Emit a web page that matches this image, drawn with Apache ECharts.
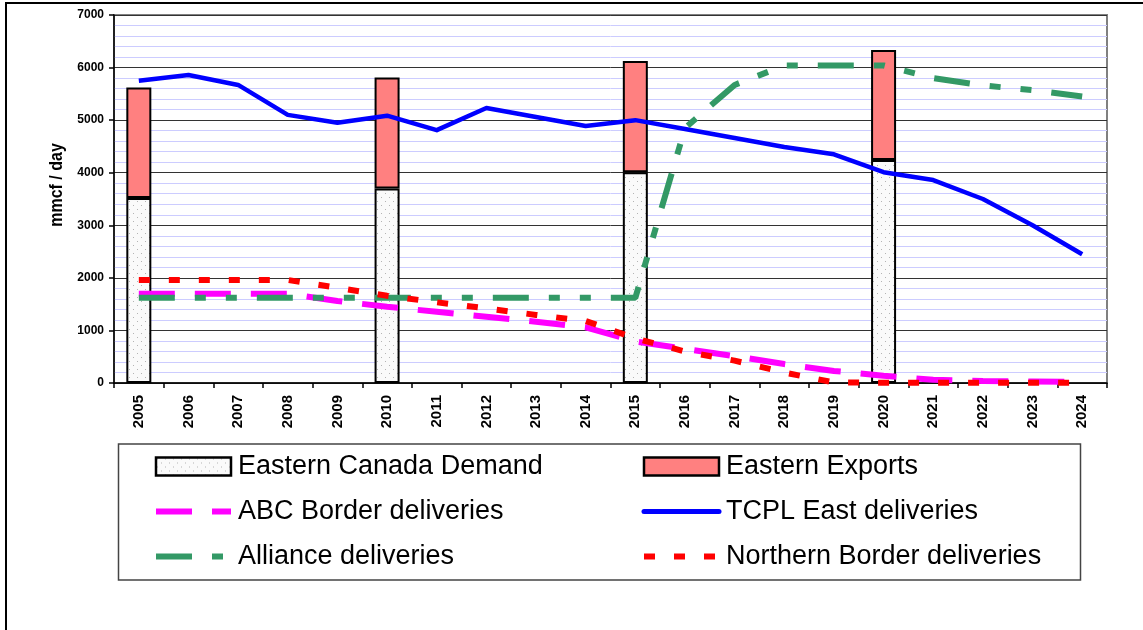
<!DOCTYPE html>
<html lang="en">
<head>
<meta charset="UTF-8">
<title>Eastern Canada gas deliveries</title>
<script src="https://cdn.jsdelivr.net/npm/echarts@6/dist/echarts.min.js"></script>
<style>
    html, body { margin: 0; padding: 0; background: #fff; }
    #chart { width: 1143px; height: 630px; }
</style>
</head>
<body>
<div id="chart"></div>
<script>
    // data (mmcf / day)
    const years = ['2005','2006','2007','2008','2009','2010','2011','2012','2013','2014',
                   '2015','2016','2017','2018','2019','2020','2021','2022','2023','2024'];
    const easternDemand  = [3520,null,null,null,null,3700,null,null,null,null,4010,null,null,null,null,4240,null,null,null,null];
    const easternExports = [2100,null,null,null,null,2110,null,null,null,null,2115,null,null,null,null,2095,null,null,null,null];
    const abcBorder      = [1700,1700,1700,1700,1560,1450,1355,1260,1165,1060,790,650,510,360,230,140,60,40,30,20];
    const tcplEast       = [5750,5860,5670,5100,4950,5085,4810,5230,5060,4890,5000,4830,4660,4490,4350,4010,3860,3500,3000,2450];
    const alliance       = [1620,1620,1620,1620,1620,1620,1620,1620,1620,1620,1620,4850,5670,6040,6040,6040,5800,5660,5570,5450];
    const northernBorder = [1960,1960,1960,1960,1810,1660,1535,1420,1295,1180,850,600,425,200,10,5,5,5,5,5];

    // light dotted fill like the Excel pattern
    function dotPattern() {
        const c = document.createElement('canvas');
        c.width = 8; c.height = 8;
        const ctx = c.getContext('2d');
        ctx.fillStyle = '#fafafa';
        ctx.fillRect(0, 0, 8, 8);
        ctx.fillStyle = '#b4b4b4';
        ctx.fillRect(1, 1, 1, 1);
        ctx.fillRect(5, 5, 1, 1);
        return c;
    }

    const FONT = 'Liberation Sans, Arial, sans-serif';
    const chart = echarts.init(document.getElementById('chart'));

    // hide the little circle ECharts puts on line legend icons
    const noDot = { opacity: 0 };

    const legendCommon = {
        orient: 'vertical',
        top: 453,
        itemWidth: 75,
        itemHeight: 18,
        itemGap: 18,
        padding: 0,
        selectedMode: false,
        textStyle: { fontSize: 27, color: '#000', fontFamily: FONT, padding: [0, 0, 0, 2] }
    };

    const option = {
        animation: false,
        textStyle: { fontFamily: FONT },
        grid: {
            left: 114, right: 36, top: 15, bottom: 247,
            show: true, borderColor: '#808080', borderWidth: 2
        },
        legend: [
            Object.assign({}, legendCommon, {
                left: 153,
                data: [
                    { name: 'Eastern Canada Demand', icon: 'rect', itemStyle: { borderColor: '#000', borderWidth: 2.5 } },
                    { name: 'ABC Border deliveries', itemStyle: noDot, lineStyle: { width: 6 } },
                    { name: 'Alliance deliveries', itemStyle: noDot, lineStyle: { width: 6 } }
                ]
            }),
            Object.assign({}, legendCommon, {
                left: 641,
                data: [
                    { name: 'Eastern Exports', icon: 'rect', itemStyle: { borderColor: '#000', borderWidth: 2.5 } },
                    { name: 'TCPL East deliveries', itemStyle: noDot, lineStyle: { width: 5, cap: 'round' } },
                    { name: 'Northern Border deliveries', itemStyle: noDot, lineStyle: { width: 6 } }
                ]
            })
        ],
        xAxis: {
            type: 'category',
            data: years,
            boundaryGap: true,
            axisLine: { lineStyle: { color: '#000', width: 1.5 } },
            axisTick: { show: true, length: 5, interval: 0, lineStyle: { color: '#000', width: 1.5 } },
            axisLabel: { rotate: 90, interval: 0, margin: 12, fontSize: 15, fontWeight: 'bold', color: '#000' }
        },
        yAxis: {
            type: 'value',
            min: 0, max: 7000, interval: 1000,
            axisLine: { show: true, lineStyle: { color: '#000', width: 1.5 } },
            axisTick: { show: true, length: 5, lineStyle: { color: '#000', width: 1.5 } },
            axisLabel: { margin: 10, fontSize: 12, fontWeight: 'bold', color: '#000',
                         formatter: v => String(v) },
            splitLine: { show: true, lineStyle: { color: '#333', width: 1 } },
            minorTick: { show: false, splitNumber: 5 },
            minorSplitLine: { show: true, lineStyle: { color: '#ccccff', width: 1 } }
        },
        graphic: [
            { type: 'rect', silent: true, shape: { x: 6, y: 3, width: 1160, height: 660 },
              style: { fill: 'none', stroke: '#000', lineWidth: 2 } },
            { type: 'rect', silent: true, shape: { x: 118.5, y: 444, width: 962, height: 136 },
              style: { fill: 'none', stroke: '#444', lineWidth: 1.5 } },
            { type: 'text', silent: true, x: 57, y: 185, rotation: Math.PI / 2, scaleY: 1.2,
              style: { text: 'mmcf / day', font: 'bold 16px ' + FONT, fill: '#000',
                       textAlign: 'center', textVerticalAlign: 'middle' } }
        ],
        series: [
            {
                name: 'Eastern Canada Demand',
                type: 'bar', stack: 'total', barWidth: 25,
                data: easternDemand,
                itemStyle: { color: { image: dotPattern(), repeat: 'repeat' }, borderColor: '#000', borderWidth: 2 }
            },
            {
                name: 'Eastern Exports',
                type: 'bar', stack: 'total', barWidth: 25,
                data: easternExports,
                itemStyle: { color: '#ff8080', borderColor: '#000', borderWidth: 2 }
            },
            {
                name: 'ABC Border deliveries',
                type: 'line', symbol: 'none', data: abcBorder,
                lineStyle: { color: '#ff00ff', width: 6, type: [36, 20] },
                itemStyle: { color: '#ff00ff' }
            },
            {
                name: 'TCPL East deliveries',
                type: 'line', symbol: 'none', data: tcplEast,
                lineStyle: { color: '#0000ff', width: 4.5, join: 'round' },
                itemStyle: { color: '#0000ff' }
            },
            {
                name: 'Alliance deliveries',
                type: 'line', symbol: 'none', data: alliance,
                lineStyle: { color: '#339966', width: 6, type: [36, 20, 11, 20, 11, 20] },
                itemStyle: { color: '#339966' }
            },
            {
                name: 'Northern Border deliveries',
                type: 'line', symbol: 'none', data: northernBorder,
                lineStyle: { color: '#ff0000', width: 6, type: [11, 19] },
                itemStyle: { color: '#ff0000' }
            }
        ]
    };

    chart.setOption(option);
</script>
</body>
</html>
